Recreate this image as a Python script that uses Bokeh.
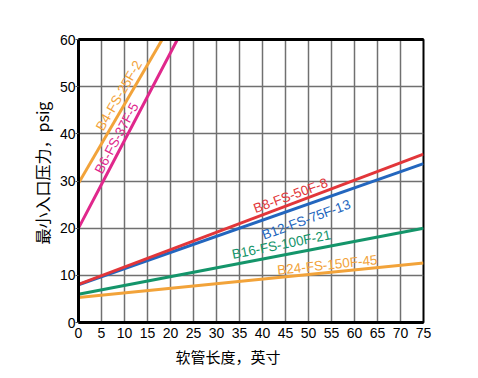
from bokeh.plotting import figure
from bokeh.models import FixedTicker, LinearAxis, Range1d, ColumnDataSource, Title
from bokeh.core.properties import value
from bokeh.embed import file_html
from bokeh.resources import INLINE
import math

# data (hose length in inches -> minimum inlet pressure, psig)
b4_x = [0, 18.2]
b4_y = [29.5, 60]
b6_x = [0, 5.5, 21.5]
b6_y = [20, 30.2, 60]
b8_x = [0, 75]
b8_y = [8.1, 35.7]
b12_x = [0, 75]
b12_y = [8.0, 33.7]
b16_x = [0, 75]
b16_y = [6.0, 20.0]
b24_x = [0, 75]
b24_y = [5.3, 12.6]

names = ["B4-FS-25F-2", "B6-FS-37F-5", "B8-FS-50F-8", "B12-FS-75F-13", "B16-FS-100F-21", "B24-FS-150F-45"]
colors = ["#F2A33A", "#E0288C", "#E2363A", "#2366BE", "#14956A", "#F2A33A"]
label_x = [8.8, 8.3, 46.1, 49.5, 44.1, 54.1]
label_y = [48.1, 39.1, 26.9, 21.8, 16.5, 12.2]
label_deg = [60.0, 62.0, 20.0, 20.0, 11.5, 6.0]

x_ticks = list(range(0, 80, 5))
y_ticks = [0, 10, 20, 30, 40, 50, 60]

x_title = "软管长度，英寸"
y_title = "最小入口压力，psig"

p = figure(width=470, height=370, output_backend="svg", toolbar_location=None,
           x_range=Range1d(0, 75), y_range=Range1d(0, 60),
           min_border_left=78, min_border_right=47, min_border_top=39, min_border_bottom=47)
p.background_fill_color = "white"
p.border_fill_color = "white"
p.outline_line_color = "black"
p.outline_line_width = 2

p.xaxis.ticker = FixedTicker(ticks=x_ticks)
p.yaxis.ticker = FixedTicker(ticks=y_ticks)
for ax in (p.xaxis[0], p.yaxis[0]):
    ax.axis_line_width = 3
    ax.axis_line_color = "black"
    ax.minor_tick_line_color = None
    ax.major_label_text_font = "Liberation Sans"
    ax.major_label_text_font_size = "14px"
    ax.major_label_text_color = "black"
p.xaxis.major_tick_line_color = None
p.xaxis.major_tick_out = 0
p.xaxis.major_tick_in = 0
p.xaxis.major_label_standoff = 5
p.yaxis.major_tick_in = 0
p.yaxis.major_tick_out = 3
p.yaxis.major_tick_line_color = "#555555"
p.yaxis.major_label_standoff = 0

top = LinearAxis(ticker=FixedTicker(ticks=[]), axis_line_width=3, major_label_text_font_size="0px",
                 major_tick_line_color=None, minor_tick_line_color=None,
                 major_tick_out=0, major_tick_in=0)
p.add_layout(top, "above")

xt = Title(text=x_title, align="left", offset=97, text_font="Noto Sans CJK SC",
           text_font_size="15px", text_font_style="normal", text_color="black", standoff=7)
p.add_layout(xt, "below")
yt = Title(text=y_title, align="left", offset=78, text_font="Noto Sans CJK SC",
           text_font_size="16px", text_font_style="normal", text_color="black", standoff=6)
p.add_layout(yt, "left")

p.xgrid.grid_line_color = "#707070"
p.ygrid.grid_line_color = "#707070"
p.xgrid.grid_line_width = 1.5
p.ygrid.grid_line_width = 1.5

series = [(b4_x, b4_y), (b6_x, b6_y), (b8_x, b8_y), (b12_x, b12_y), (b16_x, b16_y), (b24_x, b24_y)]
order = [5, 4, 3, 2, 1, 0]
for i in order:
    xs, ys = series[i]
    p.line(xs, ys, line_color=colors[i], line_width=3)

src = ColumnDataSource(dict(x=label_x, y=label_y, t=names, c=colors,
                            a=[math.radians(d) for d in label_deg]))
p.text(x="x", y="y", text="t", text_color="c", angle="a", source=src,
       text_font=value("Liberation Sans"), text_font_size="13.5px",
       text_align="center", text_baseline="middle")

open("out.html", "w").write(file_html(p, INLINE))
